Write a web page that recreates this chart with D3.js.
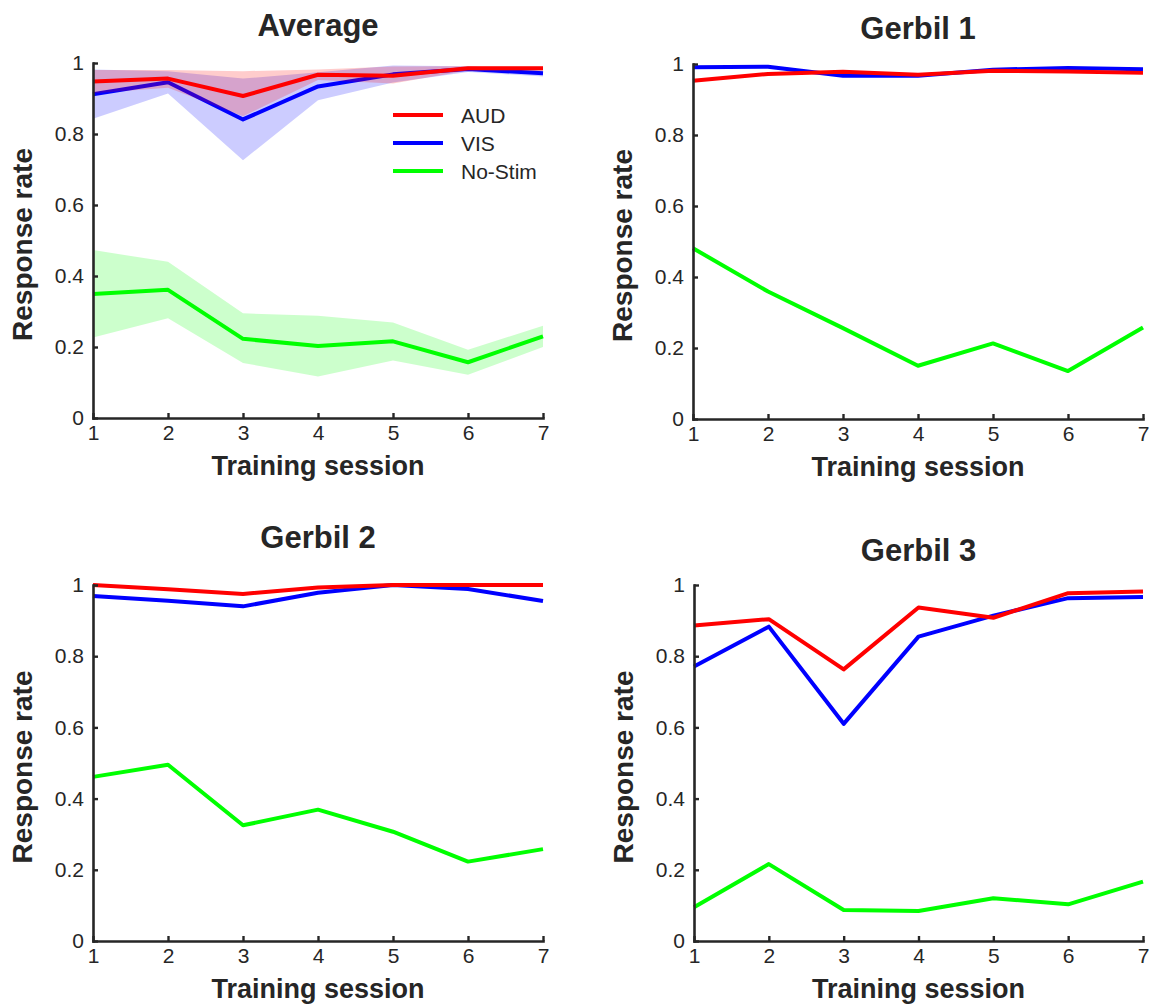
<!DOCTYPE html>
<html>
<head>
<meta charset="utf-8">
<script src="https://cdn.jsdelivr.net/npm/d3@7"></script>
<style>
  html, body { margin: 0; padding: 0; background: #fff; }
  svg { display: block; font-family: "Liberation Sans", Arial, Helvetica, sans-serif; }
</style>
</head>
<body>
<svg id="fig" width="1154" height="1008"></svg>
<script>
// Training sessions on the x axis
const sessions = [1, 2, 3, 4, 5, 6, 7];
const yTicks = [0, 0.2, 0.4, 0.6, 0.8, 1];
const yTickLabels = ["0", "0.2", "0.4", "0.6", "0.8", "1"];
const seriesNames = ["AUD", "VIS", "No-Stim"];

// Average across animals (mean with shaded error band)
const avgAud   = [0.948, 0.956, 0.907, 0.967, 0.964, 0.985, 0.985];
const avgAudLo = [0.915, 0.930, 0.850, 0.952, 0.942, 0.979, 0.979];
const avgAudHi = [0.980, 0.980, 0.977, 0.982, 0.990, 0.991, 0.990];
const avgVis   = [0.912, 0.946, 0.841, 0.934, 0.968, 0.983, 0.971];
const avgVisLo = [0.843, 0.914, 0.726, 0.895, 0.945, 0.975, 0.962];
const avgVisHi = [0.982, 0.977, 0.956, 0.974, 0.993, 0.991, 0.979];
const avgNo    = [0.349, 0.361, 0.223, 0.203, 0.216, 0.157, 0.230];
const avgNoLo  = [0.227, 0.281, 0.155, 0.117, 0.162, 0.122, 0.200];
const avgNoHi  = [0.473, 0.440, 0.295, 0.288, 0.269, 0.192, 0.260];

// Individual animals
const g1Aud = [0.953, 0.972, 0.978, 0.970, 0.981, 0.979, 0.975];
const g1Vis = [0.991, 0.992, 0.967, 0.967, 0.984, 0.989, 0.985];
const g1No  = [0.481, 0.359, 0.256, 0.150, 0.213, 0.135, 0.258];

const g2Aud = [1.000, 0.988, 0.975, 0.993, 1.000, 1.000, 1.000];
const g2Vis = [0.969, 0.956, 0.940, 0.978, 1.000, 0.989, 0.955];
const g2No  = [0.461, 0.495, 0.325, 0.369, 0.307, 0.223, 0.258];

const g3Aud = [0.886, 0.904, 0.763, 0.937, 0.908, 0.977, 0.982];
const g3Vis = [0.771, 0.883, 0.610, 0.855, 0.914, 0.963, 0.966];
const g3No  = [0.095, 0.216, 0.087, 0.084, 0.120, 0.103, 0.167];

const colors = { AUD: "#ff0000", VIS: "#0000ff", "No-Stim": "#00ff00" };
const ink = "#262626";
const font = '"Liberation Sans", Arial, Helvetica, sans-serif';

const panels = [
  { title: "Average",  left: 93,  right: 543,  top: 63,  bottom: 418, titleY: 36,  legend: true,
    series: [
      { name: "VIS", v: avgVis, lo: avgVisLo, hi: avgVisHi },
      { name: "AUD", v: avgAud, lo: avgAudLo, hi: avgAudHi },
      { name: "No-Stim", v: avgNo, lo: avgNoLo, hi: avgNoHi }
    ] },
  { title: "Gerbil 1", left: 693, right: 1143, top: 64,  bottom: 419, titleY: 39,
    series: [ { name: "VIS", v: g1Vis }, { name: "AUD", v: g1Aud }, { name: "No-Stim", v: g1No } ] },
  { title: "Gerbil 2", left: 93,  right: 543,  top: 585, bottom: 941, titleY: 548,
    series: [ { name: "VIS", v: g2Vis }, { name: "AUD", v: g2Aud }, { name: "No-Stim", v: g2No } ] },
  { title: "Gerbil 3", left: 694, right: 1143, top: 585, bottom: 941, titleY: 561,
    series: [ { name: "VIS", v: g3Vis }, { name: "AUD", v: g3Aud }, { name: "No-Stim", v: g3No } ] }
];

const svg = d3.select("#fig");

panels.forEach(p => {
  const x = d3.scaleLinear().domain([1, 7]).range([p.left, p.right]);
  const y = d3.scaleLinear().domain([0, 1]).range([p.bottom, p.top]);
  const g = svg.append("g");

  // shaded bands first, then each line
  p.series.forEach(s => {
    if (s.lo) {
      const area = d3.area()
        .x((d, i) => x(sessions[i]))
        .y0((d, i) => y(s.lo[i]))
        .y1((d, i) => y(s.hi[i]));
      g.append("path")
        .attr("d", area(s.v))
        .attr("fill", colors[s.name])
        .attr("fill-opacity", 0.2)
        .attr("stroke", "none");
    }
    const line = d3.line().x((d, i) => x(sessions[i])).y(d => y(d));
    g.append("path")
      .attr("d", line(s.v))
      .attr("fill", "none")
      .attr("stroke", colors[s.name])
      .attr("stroke-width", 4)
      .attr("stroke-linejoin", "round");
  });

  // axes: ticks point inwards
  const yAxis = d3.axisLeft(y).tickValues(yTicks)
    .tickFormat((d, i) => yTickLabels[i])
    .tickSizeInner(-5).tickSizeOuter(0).tickPadding(9);
  const xAxis = d3.axisBottom(x).tickValues(sessions)
    .tickFormat(d3.format("d"))
    .tickSizeInner(-5).tickSizeOuter(0).tickPadding(7);

  const ya = g.append("g").attr("transform", `translate(${p.left},0)`).call(yAxis);
  const xa = g.append("g").attr("transform", `translate(0,${p.bottom})`).call(xAxis);
  [ya, xa].forEach(a => {
    a.attr("font-size", null).attr("font-family", null);
    a.selectAll("path.domain").attr("stroke", ink).attr("stroke-width", 2.6).attr("stroke-linecap", "square");
    a.selectAll(".tick line").attr("stroke", ink).attr("stroke-width", 2.4);
    a.selectAll(".tick text").attr("fill", ink).style("font-size", "21px").style("font-family", font);
  });

  // title and axis labels
  g.append("text")
    .attr("x", (p.left + p.right) / 2).attr("y", p.titleY)
    .attr("text-anchor", "middle")
    .attr("fill", ink).style("font-weight", "bold").style("font-size", "31px")
    .text(p.title);

  g.append("text")
    .attr("x", (p.left + p.right) / 2).attr("y", p.bottom + 57)
    .attr("text-anchor", "middle")
    .attr("fill", ink).style("font-weight", "bold").style("font-size", "27px")
    .text("Training session");

  g.append("text")
    .attr("transform", `translate(${p.left - 61},${(p.top + p.bottom) / 2 + 4}) rotate(-90)`)
    .attr("text-anchor", "middle")
    .attr("fill", ink).style("font-weight", "bold").style("font-size", "28px")
    .text("Response rate");

  if (p.legend) {
    const lg = g.append("g");
    seriesNames.forEach((name, i) => {
      const ly = 115 + i * 28;
      lg.append("line")
        .attr("x1", 393).attr("x2", 443).attr("y1", ly).attr("y2", ly)
        .attr("stroke", colors[name]).attr("stroke-width", 4);
      lg.append("text")
        .attr("x", 461).attr("y", ly).attr("dy", "0.36em")
        .attr("fill", ink).style("font-size", "21px")
        .text(name);
    });
  }
});
</script>
</body>
</html>
